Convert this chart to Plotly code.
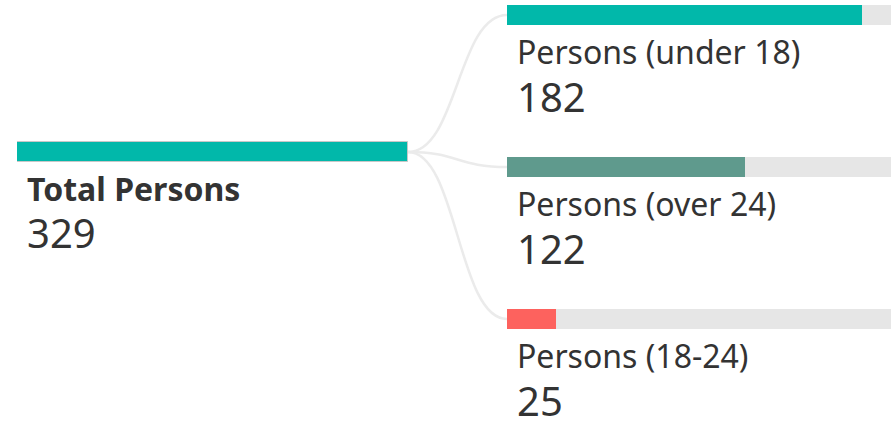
import plotly.graph_objects as go

# ---- data ----
root_label = "Total Persons"
root_value = 329
child_labels = ["Persons (under 18)", "Persons (over 24)", "Persons (18-24)"]
child_values = [182, 122, 25]
child_colors = ["#01B8AA", "#5F9A8D", "#FD625E"]
root_color = "#01B8AA"

# ---- layout constants (pixels) ----
W, H = 891, 422
root_x0, root_x1 = 17, 408
root_yc = 152
child_x0 = 507
child_y0, child_step = 15, 152
bar_h = 20
child_px_per_unit = 1.9505
text_color = "#333333"
font_family = "Segoe UI, Noto Sans, sans-serif"
label_size = 32
value_size = 40

child_y = [child_y0 + i * child_step for i in range(len(child_values))]

fig = go.Figure()

# root bar
fig.add_trace(go.Bar(
    orientation="h", y=[root_yc], x=[root_value], base=0, width=bar_h,
    marker=dict(color=root_color, line=dict(color="#C8C8C8", width=1)),
    xaxis="x", yaxis="y", hoverinfo="skip", showlegend=False,
))
# child background bars (value relative to parent total)
fig.add_trace(go.Bar(
    orientation="h", y=child_y, x=[root_value] * len(child_values), width=bar_h,
    marker=dict(color="#E6E6E6", line=dict(width=0)),
    xaxis="x2", yaxis="y", hoverinfo="skip", showlegend=False,
))
# child value bars
fig.add_trace(go.Bar(
    orientation="h", y=child_y, x=child_values, width=bar_h,
    marker=dict(color=child_colors, line=dict(width=0)),
    xaxis="x2", yaxis="y", hoverinfo="skip", showlegend=False,
))

# invisible pixel axis for connectors and text
fig.add_trace(go.Scatter(x=[0], y=[0], mode="markers", marker=dict(opacity=0),
                         xaxis="x3", yaxis="y", hoverinfo="skip", showlegend=False))

shapes = []
for cy in child_y:
    xm = (root_x1 + child_x0) / 2
    path = f"M {root_x1},{root_yc} C {xm},{root_yc} {xm},{cy} {child_x0},{cy}"
    shapes.append(dict(type="path", path=path, xref="x3", yref="y",
                       line=dict(color="#EBEBEB", width=2.5), layer="below"))

annotations = []
def add_text(x, y, text, size, bold=False):
    annotations.append(dict(
        x=x, y=y, xref="x3", yref="y", xanchor="left", yanchor="middle",
        text=f"<b>{text}</b>" if bold else text, showarrow=False,
        font=dict(family=font_family, size=size, color=text_color),
    ))

label_dy = 26
value_dy = 71
text_dx = 8
add_text(root_x0 + text_dx, root_yc + bar_h / 2 + label_dy, root_label, label_size, bold=True)
add_text(root_x0 + text_dx, root_yc + bar_h / 2 + value_dy - 1, str(root_value), value_size)
for cy, lab, val in zip(child_y, child_labels, child_values):
    add_text(child_x0 + text_dx, cy + bar_h / 2 + label_dy, lab, label_size)
    add_text(child_x0 + text_dx, cy + bar_h / 2 + value_dy, str(val), value_size)

ax_common = dict(visible=False, showgrid=False, zeroline=False, fixedrange=True)
fig.update_layout(
    width=W, height=H, margin=dict(l=0, r=0, t=0, b=0, pad=0),
    paper_bgcolor="white", plot_bgcolor="rgba(0,0,0,0)",
    barmode="overlay", bargap=0,
    xaxis=dict(domain=[root_x0 / W, root_x1 / W], range=[0, root_value], anchor="y", **ax_common),
    xaxis2=dict(domain=[child_x0 / W, 1], range=[0, (W - child_x0) / child_px_per_unit],
                anchor="y", **ax_common),
    xaxis3=dict(domain=[0, 1], range=[0, W], anchor="y", **ax_common),
    yaxis=dict(domain=[0, 1], range=[H, 0], anchor="x3", **ax_common),
    shapes=shapes, annotations=annotations,
)

fig.write_html("out.html", config={"displayModeBar": False},
               post_script="document.body.style.margin='0';document.body.style.overflow='hidden';")
